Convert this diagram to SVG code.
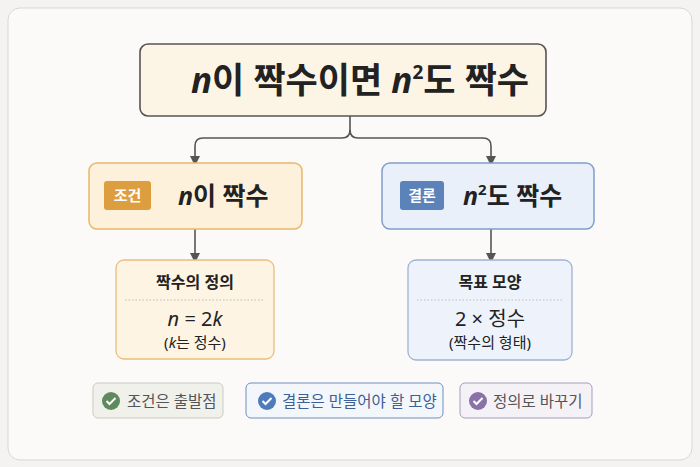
<svg xmlns="http://www.w3.org/2000/svg" width="700" height="467" viewBox="0 0 700 467">
<defs>
<style>
text{font-family:"Noto Sans","Noto Sans CJK KR",sans-serif;fill:#222}
.b{font-weight:bold}
.it{font-style:italic}
.c{stroke:#555;stroke-width:1.6;fill:none}
</style>
<marker id="ah" markerWidth="10" markerHeight="10" refX="5" refY="5" orient="auto" markerUnits="userSpaceOnUse"><path d="M0,0 L10,5 L0,10 z" fill="#555"/></marker>
</defs>
<rect x="0" y="0" width="700" height="467" fill="#f4f3f1"/>
<rect x="8" y="8" width="684" height="452" rx="12" fill="#fbfaf8" stroke="#d9d7d3"/>
<g id="connectors">
<path class="c" d="M350,116 V130 Q350,138 342,138 H203 Q195,138 195,146 V161" marker-end="url(#ah)"/>
<path class="c" d="M350,130 Q350,138 358,138 H483 Q491,138 491,146 V161" marker-end="url(#ah)"/>
<path class="c" d="M195,229 V258" marker-end="url(#ah)"/>
<path class="c" d="M491,229 V258" marker-end="url(#ah)"/>
</g>
<g id="top">
<rect x="140" y="44" width="406" height="72" rx="8" fill="#fcf5e6" stroke="#555" stroke-width="1.6"/>
<text x="360" y="93" font-size="35" text-anchor="middle" class="b"><tspan class="it">n</tspan>이 짝수이면 <tspan class="it">n</tspan><tspan font-size="19" dy="-14">2</tspan><tspan dy="14">도 짝수</tspan></text>
</g>
<g id="cond">
<rect x="89" y="163" width="213" height="66" rx="8" fill="#fdf1dc" stroke="#e9b66a" stroke-width="1.5"/>
<rect x="104" y="181" width="47" height="29" rx="3" fill="#dd9e40"/>
<text x="127.5" y="201" font-size="15" text-anchor="middle" class="b" style="fill:#fff">조건</text>
<text x="178" y="205" font-size="25" class="b"><tspan class="it">n</tspan>이 짝수</text>
</g>
<g id="concl">
<rect x="382" y="163" width="212" height="66" rx="8" fill="#eaf0fa" stroke="#7d9fcc" stroke-width="1.5"/>
<rect x="400" y="181" width="44" height="29" rx="3" fill="#5b82b9"/>
<text x="422" y="201" font-size="15" text-anchor="middle" class="b" style="fill:#fff">결론</text>
<text x="463" y="205" font-size="25" class="b"><tspan class="it">n</tspan><tspan font-size="15" dy="-10">2</tspan><tspan dy="10">도 짝수</tspan></text>
</g>
<g id="def">
<rect x="116" y="260" width="158" height="99" rx="8" fill="#fdf4e3" stroke="#e9bf7e" stroke-width="1.3"/>
<text x="195" y="288" font-size="16" text-anchor="middle" font-weight="600">짝수의 정의</text>
<line x1="125" y1="300" x2="265" y2="300" stroke="#bbb" stroke-dasharray="1.5,2"/>
<text x="195" y="326" font-size="20" text-anchor="middle"><tspan class="it">n</tspan> = 2<tspan class="it">k</tspan></text>
<text x="195" y="348" font-size="15" text-anchor="middle">(<tspan class="it">k</tspan>는 정수)</text>
</g>
<g id="goal">
<rect x="408" y="260" width="164" height="100" rx="8" fill="#eef3fb" stroke="#9fb3d6" stroke-width="1.3"/>
<text x="490" y="288" font-size="16" text-anchor="middle" font-weight="600">목표 모양</text>
<line x1="417" y1="300" x2="563" y2="300" stroke="#bbb" stroke-dasharray="1.5,2"/>
<text x="490" y="326" font-size="20" text-anchor="middle">2 × 정수</text>
<text x="490" y="348" font-size="15" text-anchor="middle">(짝수의 형태)</text>
</g>
<g id="tag1">
<rect x="93" y="383" width="130" height="35" rx="5" fill="#f1f1ec" stroke="#c9cbc2"/>
<circle cx="111" cy="401" r="9" fill="#5e8a5e"/>
<path d="M106.5,401 l3,3 l6,-6" stroke="#fff" stroke-width="2" fill="none"/>
<text x="127" y="407" font-size="15.5" style="fill:#555">조건은 출발점</text>
</g>
<g id="tag2">
<rect x="246" y="383" width="197" height="35" rx="5" fill="#f3f6fb" stroke="#6f8fc0"/>
<circle cx="267" cy="401" r="9" fill="#4e7bbb"/>
<path d="M262.5,401 l3,3 l6,-6" stroke="#fff" stroke-width="2" fill="none"/>
<text x="282" y="407" font-size="15.5" style="fill:#3d5f95">결론은 만들어야 할 모양</text>
</g>
<g id="tag3">
<rect x="460" y="383" width="132" height="35" rx="5" fill="#f5f2f7" stroke="#a99cb8"/>
<circle cx="478" cy="401" r="9" fill="#8a72a8"/>
<path d="M473.5,401 l3,3 l6,-6" stroke="#fff" stroke-width="2" fill="none"/>
<text x="493" y="407" font-size="15.5" style="fill:#555">정의로 바꾸기</text>
</g>
</svg>
